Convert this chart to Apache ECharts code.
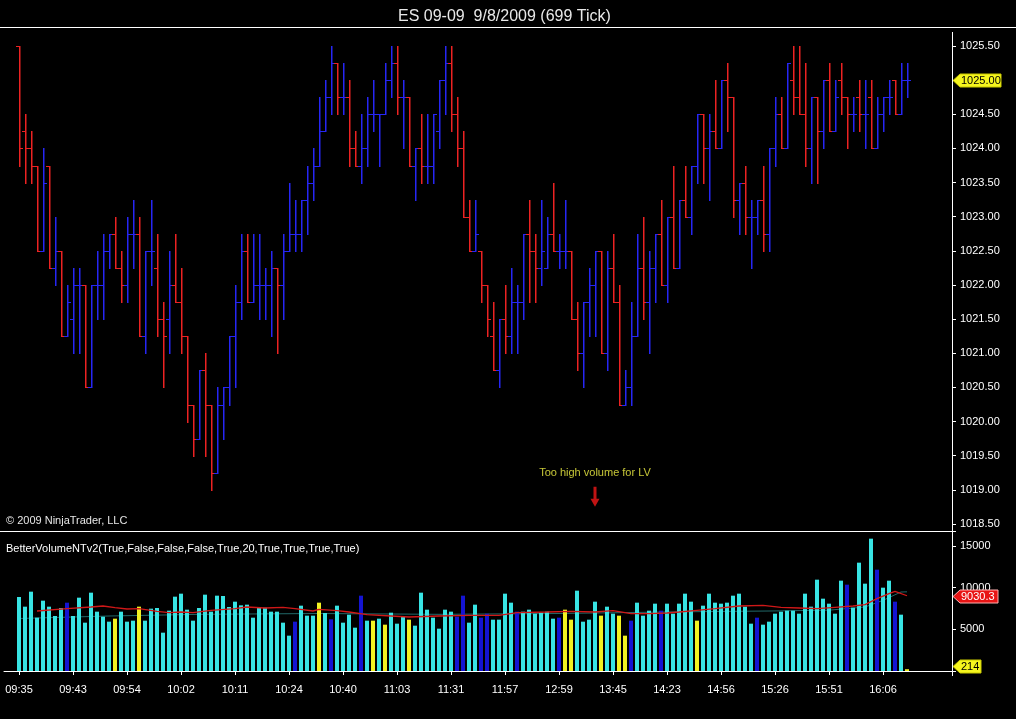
<!DOCTYPE html>
<html><head><meta charset="utf-8">
<script src="https://cdn.jsdelivr.net/npm/echarts@6/dist/echarts.min.js"></script>
<style>html,body{margin:0;padding:0;background:#000;}#c{width:1016px;height:719px;}</style>
</head><body><div id="c"></div>
<script>
// ---- data ----
const titleText = 'ES 09-09  9/8/2009 (699 Tick)';
const timeLabels = ['09:35','09:43','09:54','10:02','10:11','10:24','10:40','11:03','11:31','11:57','12:59','13:45','14:23','14:56','15:26','15:51','16:06'];
const opens = [
1025.5,1024.25,1024.0,1023.75,1022.5,1023.75,1022.25,1022.5,1021.25,1021.5,
1022.0,1022.0,1020.5,1022.0,1022.0,1022.5,1022.75,1022.25,1022.0,1022.75,
1022.75,1021.25,1022.5,1022.25,1021.5,1021.5,1022.0,1021.75,1021.25,1020.25,
1019.75,1020.75,1020.25,1019.25,1020.25,1020.5,1021.25,1021.75,1022.5,1021.75,
1022.0,1022.0,1022.0,1022.25,1022.0,1022.5,1022.75,1022.75,1023.25,1023.5,
1023.75,1024.25,1024.75,1025.25,1024.75,1024.75,1024.0,1023.75,1024.0,1024.5,
1024.5,1024.5,1025.0,1025.25,1024.75,1024.75,1023.75,1024.0,1023.75,1023.75,
1024.25,1025.0,1025.25,1024.5,1024.0,1023.0,1022.5,1022.5,1022.0,1021.25,
1020.75,1021.5,1021.25,1021.75,1021.75,1022.75,1022.5,1022.25,1022.25,1022.75,
1022.5,1022.5,1022.5,1021.5,1021.0,1021.75,1022.0,1022.5,1021.0,1022.25,
1021.75,1020.25,1020.5,1021.25,1022.25,1021.75,1022.25,1022.75,1022.0,1023.0,
1022.25,1023.25,1023.0,1023.75,1024.5,1024.0,1024.25,1024.0,1025.0,1024.75,
1023.25,1023.5,1023.0,1023.0,1023.25,1022.75,1024.0,1024.5,1024.0,1025.0,
1024.75,1024.5,1024.0,1024.75,1024.25,1025.0,1024.25,1025.0,1024.75,1024.5,
1024.75,1024.5,1024.75,1024.0,1024.5,1024.75,1025.0,1024.5,1025.0];
const highs = [
1025.5,1024.5,1024.25,1023.75,1024.0,1023.75,1023.0,1022.5,1022.0,1022.25,
1022.25,1022.0,1022.0,1022.5,1022.75,1022.75,1023.0,1022.5,1023.0,1023.25,
1023.0,1022.5,1023.25,1022.75,1021.75,1022.5,1022.75,1022.25,1021.25,1020.25,
1020.75,1021.0,1020.25,1020.5,1020.5,1021.25,1022.0,1022.75,1022.75,1022.75,
1022.75,1022.25,1022.5,1022.25,1022.75,1023.5,1023.25,1023.25,1023.75,1024.0,
1024.75,1025.0,1025.5,1025.25,1025.25,1025.0,1024.25,1024.5,1024.75,1025.0,
1024.5,1025.25,1025.5,1025.5,1025.0,1024.75,1024.0,1024.5,1024.5,1024.5,
1025.0,1025.5,1025.5,1024.75,1024.25,1023.25,1023.25,1022.5,1022.0,1021.75,
1021.5,1022.0,1022.25,1022.0,1022.75,1023.25,1022.75,1023.25,1023.0,1023.5,
1022.75,1023.25,1022.5,1021.75,1021.75,1022.25,1022.5,1022.5,1022.5,1022.75,
1022.0,1020.75,1021.75,1022.75,1023.0,1022.5,1022.75,1023.25,1023.0,1023.75,
1023.25,1023.75,1023.75,1024.5,1024.5,1024.5,1025.0,1025.0,1025.25,1024.75,
1023.5,1023.75,1023.25,1023.25,1023.75,1024.0,1024.75,1024.75,1025.25,1025.5,
1025.5,1025.25,1024.75,1024.75,1025.0,1025.25,1025.0,1025.25,1024.75,1024.75,
1025.0,1025.0,1025.0,1024.75,1024.75,1025.0,1025.0,1025.25,1025.25];
const lows = [
1023.75,1023.5,1023.5,1022.5,1022.5,1022.25,1022.0,1021.25,1021.25,1021.0,
1021.0,1020.5,1020.5,1021.5,1021.5,1022.25,1022.25,1021.75,1021.75,1022.25,
1021.25,1021.0,1022.0,1021.25,1020.5,1021.0,1021.75,1021.0,1020.0,1019.5,
1019.75,1019.5,1019.0,1019.25,1019.75,1020.25,1020.5,1021.5,1021.75,1021.75,
1021.5,1021.5,1021.25,1021.0,1021.5,1022.5,1022.5,1022.5,1022.75,1023.25,
1023.75,1024.25,1024.5,1024.5,1024.5,1023.75,1023.75,1023.5,1023.75,1024.25,
1023.75,1024.5,1024.75,1024.5,1024.0,1023.75,1023.25,1023.5,1023.5,1023.5,
1024.0,1024.5,1024.25,1023.75,1023.0,1022.5,1022.5,1021.75,1021.25,1020.75,
1020.5,1021.0,1021.0,1021.0,1021.5,1021.75,1021.75,1022.0,1022.25,1022.5,
1022.25,1022.25,1021.5,1020.75,1020.5,1021.25,1021.25,1021.0,1020.75,1021.75,
1020.25,1020.25,1020.25,1021.25,1021.5,1021.0,1021.75,1022.0,1021.75,1022.25,
1022.25,1023.0,1022.75,1023.5,1023.5,1023.25,1024.0,1024.0,1024.25,1023.0,
1022.75,1022.75,1022.25,1022.75,1022.5,1022.5,1023.75,1024.0,1024.0,1024.5,
1024.5,1023.75,1023.5,1023.5,1024.0,1024.25,1024.25,1024.5,1024.0,1024.25,
1024.25,1024.0,1024.0,1024.0,1024.25,1024.5,1024.5,1024.5,1024.75];
const closes = [
1024.0,1024.0,1023.75,1022.5,1023.5,1022.25,1022.5,1021.25,1021.75,1022.0,
1022.0,1020.5,1022.0,1022.0,1022.5,1022.75,1022.25,1022.0,1022.75,1022.75,
1021.25,1022.5,1022.5,1021.5,1021.25,1022.0,1021.75,1021.25,1020.25,1019.75,
1020.75,1020.25,1019.25,1020.25,1020.5,1021.25,1021.75,1022.5,1021.75,1022.0,
1022.0,1022.0,1022.25,1022.0,1022.5,1022.75,1022.75,1023.25,1023.5,1023.75,
1024.25,1024.75,1025.25,1024.75,1024.75,1024.0,1023.75,1024.0,1024.5,1024.5,
1024.5,1025.0,1025.25,1024.75,1024.75,1023.75,1024.0,1023.75,1023.75,1024.5,
1025.0,1025.25,1024.5,1024.0,1023.0,1022.5,1022.75,1022.0,1021.5,1020.75,
1021.5,1021.25,1021.75,1021.75,1022.75,1022.5,1022.25,1022.5,1022.75,1022.5,
1022.5,1022.5,1021.5,1021.0,1021.75,1022.0,1022.5,1021.0,1022.25,1021.75,
1020.25,1020.5,1021.25,1022.25,1021.75,1022.25,1022.75,1022.0,1023.0,1022.25,
1023.25,1023.0,1023.75,1024.5,1024.0,1024.25,1024.0,1025.0,1024.75,1023.25,
1023.5,1023.0,1023.0,1023.25,1022.75,1024.0,1024.5,1024.0,1025.25,1024.75,
1024.5,1024.0,1024.75,1024.25,1025.0,1024.25,1024.75,1024.75,1024.5,1024.5,
1024.5,1024.5,1024.0,1024.5,1024.75,1024.75,1024.5,1025.0,1025.0];
const volumes = [
8880,7720,9520,6400,8440,7720,6600,7560,8200,6600,
8800,5800,9400,7120,6520,5920,6280,7120,5920,6040,
7720,6040,7480,7560,4600,7240,8920,9280,7360,6040,
7560,9160,7120,9040,9000,7680,8320,7880,7960,6400,
7560,7600,7120,7120,5800,4240,5920,7840,6640,6640,
8200,6960,6200,7840,5800,6760,5200,9040,6040,6040,
6280,5560,7000,5680,6520,6160,5440,9400,7360,6400,
5080,7360,7120,6520,9040,5800,7960,6400,6880,6160,
6160,9280,8200,7120,7120,7360,6880,7000,7120,6280,
6400,7360,6160,9640,5920,6160,8320,6640,7720,6880,
6640,4240,6040,8200,6640,7240,8080,7240,8080,6880,
8080,9280,8320,6040,7840,9280,8200,8080,8200,9040,
9280,7720,5680,6400,5560,5920,6880,7120,7240,7240,
6880,9280,7720,10960,8680,8080,6880,10840,10360,7600,
13000,10480,15880,12160,10000,10840,8320,6760,214];
// c = normal (cyan), b = churn (blue), y = low volume (yellow)
const volumeKinds = (
'ccccccccbc'+'ccccccyccc'+'yccccccccc'+'cccccccccc'+'ccccccbccc'+
'ycbccccbcy'+'cycccycccc'+'cccbbccbbc'+'cccbcccccc'+'byyccccycc'+
'yybccccbcc'+'cccycccccc'+'cccbcccccc'+'ccccccccbc'+'cccbccbcy').split('');
const volMaBars = [3,8,12,14,16,18,20,23,25,27,29,32,36,38,41,44,46,49,50,53,55,58,62,65,70,75,80,83,88,92,96,99,102,105,108,110,113,116,120,124,127,130,133,136,139,141,143,145,146,148];
const volMaValues = [7200,7480,7680,7800,7600,7440,7480,7160,7000,7080,7000,7280,7480,7680,7560,7640,7480,7200,7400,7240,7080,6760,6600,6480,6600,6680,6680,7000,7080,7160,7080,7240,6880,6880,6960,7080,7280,7480,7800,7880,7640,7560,7480,7640,7800,7960,8680,9280,9560,9030.3];
const volFastBars = [0,15,30,50,70,90,110,125,135,141,144,147,148];
const volFastValues = [6300,6600,6800,6900,6800,6900,7100,7200,7300,7680,8480,9480,9500];
const noteText = 'Too high volume for LV';
const noteBar = 96, notePrice = 1019.25, arrowPrice = 1018.9;
const indicatorText = 'BetterVolumeNTv2(True,False,False,False,True,20,True,True,True,True)';
const copyrightText = '\u00a9 2009 NinjaTrader, LLC';

// ---- styles / layout ----
const PAD = 2, NCAT = 158;
const FONT = '"Liberation Sans", Arial, sans-serif';
const RED = '#EC2222', BLUE = '#2626F4';
const VCOL = {c: '#38E4E4', b: '#1414D2', y: '#F2F222'};
const cat = b => b + PAD;
const isLabelIdx = idx => { const b = idx - PAD; return b >= 0 && b % 9 === 0 && b / 9 < timeLabels.length; };

const ohlcData = opens.map((o, i) => [cat(i), o, highs[i], lows[i], closes[i]]);
const volData = volumes.map((v, i) => ({value: [cat(i), v], itemStyle: {color: VCOL[volumeKinds[i]] || VCOL.c}}));
const maData = volMaBars.map((b, k) => [cat(b), volMaValues[k]]);
const fastData = volFastBars.map((b, k) => [cat(b), volFastValues[k]]);
const categories = Array.from({length: NCAT}, (_, i) => String(i));

function renderOHLC(params, api) {
  const x = api.value(0), o = api.value(1), h = api.value(2), l = api.value(3), c = api.value(4);
  const ph = api.coord([x, h]), pl = api.coord([x, l]), po = api.coord([x, o]), pc = api.coord([x, c]);
  const X = Math.round(ph[0]);
  const color = c >= o ? BLUE : RED;
  const s = {fill: color, stroke: null, lineWidth: 0};
  const yh = Math.round(ph[1]), yl = Math.round(pl[1]);
  const yo = Math.round(po[1]), yc = Math.round(pc[1]);
  return {type: 'group', children: [
    {type: 'rect', shape: {x: X, y: yh, width: 1.5, height: yl - yh + 1}, style: s},
    {type: 'rect', shape: {x: X - 3, y: yo, width: 3, height: 1}, style: s},
    {type: 'rect', shape: {x: X + 1, y: yc, width: 3, height: 1}, style: s}
  ]};
}

const chart = echarts.init(document.getElementById('c'), null, {renderer: 'canvas'});
const option = {
  backgroundColor: '#000000',
  animation: false,
  title: {text: titleText, left: 393, top: 4,
    textStyle: {color: '#E8E8E8', fontSize: 16, fontWeight: 'normal', fontFamily: FONT}},
  grid: [
    {left: 4, right: 64, top: 46, height: 478},
    {left: 4, right: 64, top: 531, height: 140}
  ],
  xAxis: [
    {type: 'category', gridIndex: 0, data: categories, show: false},
    {type: 'category', gridIndex: 1, data: categories, offset: 4,
      axisLine: {show: true, lineStyle: {color: '#FFFFFF', width: 1}},
      axisTick: {show: true, alignWithLabel: true, length: 4, interval: isLabelIdx, lineStyle: {color: '#FFFFFF'}},
      axisLabel: {show: true, interval: isLabelIdx, color: '#FFFFFF', fontSize: 11, fontFamily: FONT, margin: 9,
        formatter: (val, idx) => { const b = idx - PAD; return isLabelIdx(idx) ? timeLabels[b / 9] : ''; }},
      splitLine: {show: false}}
  ],
  yAxis: [
    {type: 'value', gridIndex: 0, position: 'right', min: 1018.5, max: 1025.5, interval: 0.5,
      axisLine: {show: false}, splitLine: {show: false},
      axisTick: {show: true, length: 4, lineStyle: {color: '#FFFFFF'}},
      axisLabel: {color: '#FFFFFF', fontSize: 11, fontFamily: FONT, margin: 8, formatter: v => v.toFixed(2)}},
    {type: 'value', gridIndex: 1, position: 'right', min: 0, max: 16800, interval: 5000,
      axisLine: {show: false}, splitLine: {show: false},
      axisTick: {show: true, length: 4, lineStyle: {color: '#FFFFFF'}},
      axisLabel: {color: '#FFFFFF', fontSize: 11, fontFamily: FONT, margin: 8,
        formatter: v => (v > 0 && v % 5000 === 0) ? String(v) : ''}}
  ],
  series: [
    {type: 'custom', name: 'price', xAxisIndex: 0, yAxisIndex: 0, renderItem: renderOHLC,
      encode: {x: 0, y: [1, 2, 3, 4]}, data: ohlcData, z: 3, clip: false},
    {type: 'line', name: 'fastavg', xAxisIndex: 1, yAxisIndex: 1, data: fastData, showSymbol: false, symbol: 'none',
      lineStyle: {color: 'rgba(60,190,190,0.55)', width: 1}, z: 1, silent: true},
    {type: 'bar', name: 'volume', xAxisIndex: 1, yAxisIndex: 1, data: volData, barWidth: 4, z: 2},
    {type: 'line', name: 'volavg', xAxisIndex: 1, yAxisIndex: 1, data: maData, showSymbol: false, symbol: 'none',
      lineStyle: {color: '#D01818', width: 1.3}, z: 4, silent: true},
    {type: 'scatter', name: 'note', xAxisIndex: 0, yAxisIndex: 0, symbolSize: 1, z: 5,
      itemStyle: {color: 'rgba(0,0,0,0)'},
      label: {show: true, position: 'inside', formatter: noteText, color: '#F5F545', fontSize: 11, fontFamily: FONT},
      data: [[cat(noteBar), notePrice]]},
    {type: 'scatter', name: 'arrow', xAxisIndex: 0, yAxisIndex: 0, z: 5,
      symbol: 'path://M3,0 L6,0 L6,12 L9,12 L4.5,20 L0,12 L3,12 Z', symbolSize: [9, 20],
      itemStyle: {color: '#F01818'}, data: [[cat(noteBar), arrowPrice]]}
  ]
};
chart.setOption(option);

function tag(y, text, fill, textColor, width, border) {
  const x0 = 953, h = 6.5;
  return [
    {type: 'polygon', z: 100, shape: {points: [[x0, y], [x0 + 7, y - h], [x0 + width, y - h], [x0 + width, y + h], [x0 + 7, y + h]]},
      style: {fill: fill, stroke: border, lineWidth: 1}},
    {type: 'text', z: 101, x: x0 + 8, y: y, style: {text: text, fill: textColor, font: '11px ' + FONT, verticalAlign: 'middle'}}
  ];
}
const lastClose = closes[closes.length - 1];
const lastMa = volMaValues[volMaValues.length - 1];
const lastVol = volumes[volumes.length - 1];
const yClose = chart.convertToPixel({yAxisIndex: 0}, lastClose);
const yMa = chart.convertToPixel({yAxisIndex: 1}, lastMa);
const yVol = chart.convertToPixel({yAxisIndex: 1}, lastVol);
chart.setOption({graphic: [
  {type: 'line', z: 90, shape: {x1: 0, y1: 27.5, x2: 1016, y2: 27.5}, style: {stroke: '#FFFFFF', lineWidth: 1}},
  {type: 'line', z: 90, shape: {x1: 0, y1: 531.5, x2: 952, y2: 531.5}, style: {stroke: '#FFFFFF', lineWidth: 1}},
  {type: 'line', z: 90, shape: {x1: 952.5, y1: 32, x2: 952.5, y2: 676}, style: {stroke: '#FFFFFF', lineWidth: 1}},
  {type: 'text', z: 90, x: 6, y: 521, style: {text: copyrightText, fill: '#E6E6E6', font: '11px ' + FONT, verticalAlign: 'middle'}},
  {type: 'text', z: 90, x: 6, y: 549, style: {text: indicatorText, fill: '#FFFFFF', font: '11px ' + FONT, verticalAlign: 'middle'}},
  ...tag(Math.round(yClose) + 0.5, lastClose.toFixed(2), '#F5F51E', '#000000', 48, '#C8C800'),
  ...tag(Math.round(yMa) + 0.5, String(lastMa), '#E81414', '#FFFFFF', 45, '#FFB0B0'),
  ...tag(Math.round(yVol) - 2.5, String(lastVol), '#F5F51E', '#000000', 28, '#C8C800')
]});
</script></body></html>
